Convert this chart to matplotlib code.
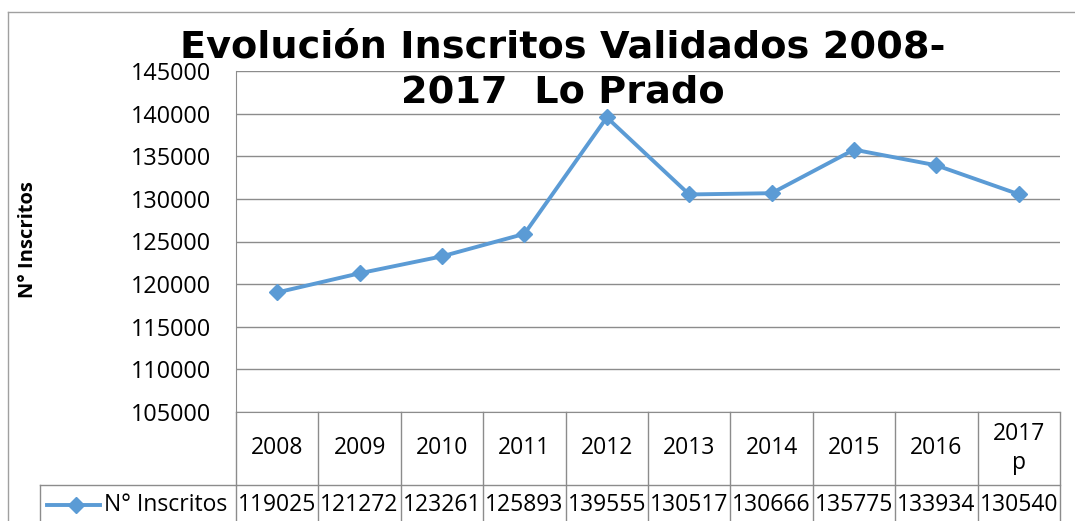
import matplotlib.pyplot as plt
from matplotlib.lines import Line2D

plt.rcParams['font.family'] = ['Open Sans', 'DejaVu Sans']

# datos
years = ['2008', '2009', '2010', '2011', '2012', '2013', '2014', '2015', '2016', '2017\np']
inscritos = [119025, 121272, 123261, 125893, 139555, 130517, 130666, 135775, 133934, 130540]
y_ticks = [105000, 110000, 115000, 120000, 125000, 130000, 135000, 140000, 145000]
serie = 'N° Inscritos'
title_lines = ['Evolución Inscritos Validados 2008-', '2017  Lo Prado']

W, H = 1075, 521
fig = plt.figure(figsize=(W / 100, H / 100), dpi=100)
ax = fig.add_axes([236 / W, 1 - 412 / H, 824 / W, 341 / H])

color = '#5B9BD5'
grid_c = '#8C8C8C'
x = list(range(len(years)))

ax.plot(x, inscritos, color=color, lw=2.8, marker='D', markersize=8.5, zorder=3)
ax.set_xlim(-0.5, len(years) - 0.5)
ax.set_ylim(105000, 145000)
ax.set_yticks(y_ticks)
ax.set_yticklabels([str(v) for v in y_ticks], fontsize=16.8)
ax.tick_params(axis='y', length=0, pad=18)
ax.set_xticks([])
ax.grid(axis='y', color=grid_c, lw=1)
for s in ['top', 'right']:
    ax.spines[s].set_visible(False)
ax.spines['left'].set_color(grid_c)
ax.spines['bottom'].set_color(grid_c)

# tabla de datos bajo el eje
tr = ax.get_xaxis_transform()
row1 = -73 / 341
row2 = -0.5
for i in range(len(years) + 1):
    ax.add_line(Line2D([i - 0.5, i - 0.5], [0, row2], transform=tr, color=grid_c, lw=1, clip_on=False))
ax.add_line(Line2D([-0.5, len(years) - 0.5], [row1, row1], transform=tr, color=grid_c, lw=1, clip_on=False))
for i, (yr, v) in enumerate(zip(years, inscritos)):
    ax.text(i, row1 / 2, yr, transform=tr, ha='center', va='center', fontsize=16.5, linespacing=1.25)
    ax.text(i, row1 - 20 / 341, str(v), transform=tr, ha='center', va='center', fontsize=16.5)

# celda de leyenda
leg_left = 40 / W
fig.add_artist(Line2D([leg_left, 236 / W], [1 - 485 / H] * 2, color=grid_c, lw=1))
fig.add_artist(Line2D([leg_left, leg_left], [1 - 485 / H, 0], color=grid_c, lw=1))
fig.add_artist(Line2D([47 / W, 100 / W], [1 - 505 / H] * 2, color=color, lw=2.8))
fig.add_artist(Line2D([76 / W], [1 - 505 / H], color=color, marker='D', markersize=8.5))
fig.text(104 / W, 1 - 505 / H, serie, ha='left', va='center', fontsize=16.5)

# borde exterior
fig.add_artist(Line2D([8 / W, 8 / W], [1 - 12 / H, 0], color='#A0A0A0', lw=1))
fig.add_artist(Line2D([8 / W, 1], [1 - 12 / H] * 2, color='#A0A0A0', lw=1))

# etiqueta eje y
fig.text(28 / W, 1 - 240 / H, serie, rotation=90, ha='center', va='center', fontsize=14.5, fontweight='bold')

# titulo
fig.text(563 / W, 1 - 57 / H, title_lines[0], ha='center', va='baseline',
         fontsize=27.5, fontweight='bold', family='DejaVu Sans')
fig.text(563 / W, 1 - 103 / H, title_lines[1], ha='center', va='baseline',
         fontsize=27.5, fontweight='bold', family='DejaVu Sans')

fig.savefig('out.png', dpi=100)
